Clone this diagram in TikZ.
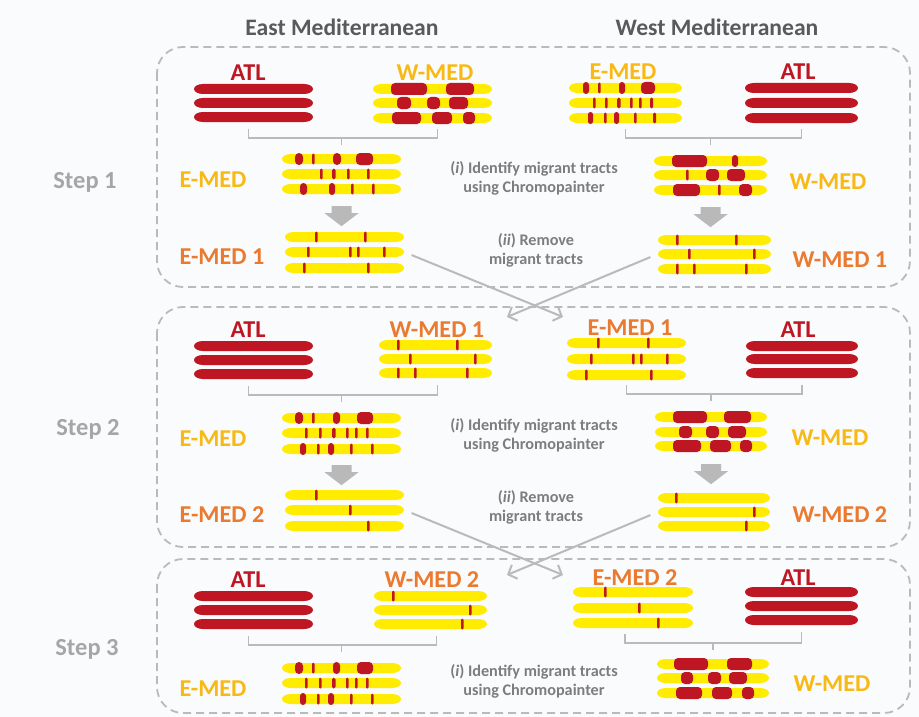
\documentclass[tikz,border=0pt]{standalone}
\usepackage{fontspec}
\setmainfont{Carlito}
\usetikzlibrary{arrows.meta}

\definecolor{atlred}{RGB}{190,22,34}
\definecolor{chryellow}{RGB}{255,236,0}
\definecolor{medgold}{RGB}{248,185,20}
\definecolor{medorange}{RGB}{234,122,47}
\definecolor{linegray}{RGB}{186,186,186}
\definecolor{notegray}{RGB}{125,125,125}
\definecolor{stepgray}{RGB}{166,166,166}
\definecolor{headgray}{RGB}{90,90,90}
\definecolor{paper}{RGB}{250,251,252}

% one chromosome bar: colour, left x, mid y, length
\newcommand{\chrbar}[4]{%
    \fill[#1] (#2+9,#3-5) -- (#2+#4-9,#3-5)
        arc[start angle=90, end angle=-90, x radius=9pt, y radius=5pt]
        -- (#2+9,#3+5)
        arc[start angle=270, end angle=90, x radius=9pt, y radius=5pt] -- cycle;
}

% yellow chromosome with red tracts (from/to, measured from the left end)
\newcommand{\chrom}[4]{%
    \chrbar{chryellow}{#1}{#2}{#3}
    \foreach \a/\b in {#4}{
        \pgfmathsetmacro{\rc}{min(4,(\b-\a)/2)}
        \pgfmathsetmacro{\hh}{(\b-\a)<4.5 ? 5.5 : 6}
        \fill[atlred, rounded corners=\rc pt] (#1+\a,#2-\hh) rectangle (#1+\b,#2+\hh);
    }
}

% bracket joining two panels onto the one below
\newcommand{\joinbr}[5]{%
    \draw[bracket] ([shift={(#4,6)}]#1.south) -- ++(0,9) coordinate (brmid) -| ([shift={(#5,6)}]#2.south);
    \draw[bracket] (brmid -| #3) -- ++(0,7);
}

\tikzset{
    pics/downarr/.style={code={
        \fill[linegray!95!black!90] (-10,0) -- (10,0) -- (10,7) -- (17,7) -- (0,20) -- (-17,7) -- (-10,7) -- cycle;
    }},
}

\begin{document}
\begin{tikzpicture}[x=1pt, y=-1pt,
    lbl/.style={font=\bfseries\fontsize{24.2}{27}\selectfont, inner sep=0pt},
    atl/.style={lbl, text=atlred},
    med/.style={lbl, text=medgold},
    medn/.style={lbl, text=medorange},
    steplbl/.style={lbl, font=\bfseries\fontsize{24.5}{27}\selectfont, text=stepgray},
    head/.style={lbl, font=\bfseries\fontsize{23.6}{26}\selectfont, text=headgray},
    note/.style={font=\bfseries\fontsize{16.2}{19}\selectfont, text=notegray, align=center, inner sep=0pt},
    stack/.style={minimum height=40pt, inner sep=0pt},
    stepbox/.style={draw=linegray, line width=1.8pt, dash pattern=on 8pt off 5pt, rounded corners=26pt},
    bracket/.style={draw=linegray, line width=1.6pt},
    cross/.style={draw=linegray, line width=2pt, shorten <=8pt, -{Straight Barb[length=7pt, width=15pt]}},
]
    \fill[paper] (0,0) rectangle (919,717);
    \useasboundingbox (0,0) rectangle (919,717);

    % column titles
    \node[head] (east) at (342,27) {East Mediterranean};
    \node[head] (west) at (717,27) {West Mediterranean};

    % the three steps
    \draw[stepbox] (157,47) rectangle (910,287);
    \draw[stepbox] (157,307) rectangle (910,547);
    \draw[stepbox] (157,559) rectangle (910,713);
    \node[steplbl] (step1) at (85,182) {Step 1};
    \node[steplbl] (step2) at (88,429) {Step 2};
    \node[steplbl] (step3) at (87,649) {Step 3};

    %%%% step 1, east
    \node[atl] (latl1) at (248,73) {ATL};
    \foreach \y in {89,103,117} \chrbar{atlred}{194}{\y}{119};
    \node[stack, minimum width=119pt] (atl1) at (253.5,103) {};
    \node[med] (lwm1) at (435,73) {W-MED};
    \chrom{373}{89}{119}{18/54, 73/101}
    \chrom{373}{103}{119}{24/38, 54/67, 76/95}
    \chrom{373}{118}{119}{19/48, 59/79, 90/102}
    \node[stack, minimum width=119pt] (wms1) at (432.5,103) {};
    \node[med] (lem1) at (213,180) {E-MED};
    \chrom{282}{159}{119}{13/21, 30/32.5, 51/59, 74/91}
    \chrom{282}{174}{119}{38/40.5, 50/53.5, 65/67.5, 85/87.5}
    \chrom{282}{189}{119}{18/25, 47/53, 69/71.5, 90/92.5}
    \node[stack, minimum width=119pt] (em1) at (341.5,174) {};
    \node[medn] (lem1r) at (222,257) {E-MED 1};
    \chrom{285}{237}{119}{30/32.5, 79/81.5}
    \chrom{285}{252}{119}{22/24.5, 64/66.5, 72/74.5, 98/100.5}
    \chrom{285}{268}{119}{18/20.5, 82/84.5}
    \node[stack, minimum width=119pt] (em1r) at (344.5,252) {};

    %%%% step 1, west
    \node[med] (rem1) at (623,72) {E-MED};
    \chrom{569}{88}{113}{14/20, 29/31.5, 50/56, 72/86}
    \chrom{569}{103}{113}{24/26.5, 36/38.5, 48/51.5, 61/63.5, 70/72.5, 81/84}
    \chrom{569}{118}{113}{19/24, 35/37.5, 45/50, 65/67.5, 84/87}
    \node[stack, minimum width=113pt] (ems1) at (625.5,103) {};
    \node[atl] (ratl1) at (798,72) {ATL};
    \foreach \y in {88,103,118} \chrbar{atlred}{745}{\y}{113};
    \node[stack, minimum width=113pt] (atl1r) at (801.5,103) {};
    \node[med] (rwm1) at (828,182) {W-MED};
    \chrom{654}{161}{113}{18/53, 78/84}
    \chrom{654}{175}{113}{32/34.5, 52/65, 73/91}
    \chrom{654}{190}{113}{19/46, 64/66.5, 85/98}
    \node[stack, minimum width=113pt] (wm1) at (710.5,175) {};
    \node[medn] (rwm1r) at (840,260) {W-MED 1};
    \chrom{658}{240}{113}{18/20.5, 77/79.5}
    \chrom{658}{254}{113}{30/32.5, 95/97.5}
    \chrom{658}{269}{113}{18/20.5, 35/37.5, 87/89.5}
    \node[stack, minimum width=113pt] (wm1r) at (714.5,254) {};

    \joinbr{atl1}{wms1}{em1}{-5}{5}
    \joinbr{ems1}{atl1r}{wm1}{0}{0}
    \pic at ([yshift=-12pt]em1.south) {downarr};
    \pic at ([yshift=-12pt]wm1.south) {downarr};
    \node[note] (id1) at (534,178) {(\textit{i}) Identify migrant tracts\\using Chromopainter};
    \node[note] (rm1) at (536,250) {(\textit{ii}) Remove\\migrant tracts};

    %%%% step 2, east
    \node[atl] (latl2) at (248,330) {ATL};
    \foreach \y in {346,360,374} \chrbar{atlred}{194}{\y}{119};
    \node[stack, minimum width=119pt] (atl2) at (253.5,360) {};
    \node[medn] (lwm1b) at (437,330) {W-MED 1};
    \chrom{379}{345}{113}{18/20.5, 77/79.5}
    \chrom{379}{359}{113}{30/32.5, 95/97.5}
    \chrom{379}{373}{113}{18/20.5, 35/37.5, 87/89.5}
    \node[stack, minimum width=113pt] (wm1b) at (435.5,359) {};
    \node[med] (lem2) at (213,439) {E-MED};
    \chrom{282}{418}{119}{13/21, 30/32.5, 51/58, 75/91}
    \chrom{282}{433}{119}{23/25.5, 37/39.5, 50/53.5, 64/66.5, 73/75.5, 84/86.5}
    \chrom{282}{449}{119}{18/24, 35/37.5, 46/52, 68/70.5, 89/91.5}
    \node[stack, minimum width=119pt] (em2) at (341.5,433) {};
    \node[medn] (lem2r) at (222,515) {E-MED 2};
    \chrom{285}{495}{119}{30/32.5}
    \chrom{285}{510}{119}{64/66.5}
    \chrom{285}{526}{119}{82/84.5}
    \node[stack, minimum width=119pt] (em2r) at (344.5,510) {};

    %%%% step 2, west
    \node[medn] (rem1b) at (630,328) {E-MED 1};
    \chrom{567}{343}{119}{30/32.5, 80/82.5}
    \chrom{567}{359}{119}{23/25.5, 65/67.5, 73/75.5, 99/101.5}
    \chrom{567}{375}{119}{18/20.5, 83/85.5}
    \node[stack, minimum width=119pt] (em1b) at (626.5,359) {};
    \node[atl] (ratl2) at (798,330) {ATL};
    \foreach \y in {346,359,373} \chrbar{atlred}{746}{\y}{112};
    \node[stack, minimum width=112pt] (atl2r) at (802,359) {};
    \node[med] (rwm2) at (830,438) {W-MED};
    \chrom{655}{417}{112}{18/52, 69/96}
    \chrom{655}{432}{112}{24/37, 51/64, 73/91}
    \chrom{655}{446}{112}{18/46, 55/76, 85/97}
    \node[stack, minimum width=112pt] (wm2) at (711,432) {};
    \node[medn] (rwm2r) at (840,515) {W-MED 2};
    \chrom{658}{498}{112}{17/19.5}
    \chrom{658}{512}{112}{95/97.5}
    \chrom{658}{526}{112}{87/89.5}
    \node[stack, minimum width=112pt] (wm2r) at (714,512) {};

    \joinbr{atl2}{wm1b}{em2}{-5}{2}
    \joinbr{em1b}{atl2r}{wm2}{0}{0}
    \pic at ([yshift=-12pt]em2.south) {downarr};
    \pic at ([yshift=-12pt]wm2.south) {downarr};
    \node[note] (id2) at (534,435) {(\textit{i}) Identify migrant tracts\\using Chromopainter};
    \node[note] (rm2) at (536,507) {(\textit{ii}) Remove\\migrant tracts};

    %%%% step 3, east
    \node[atl] (latl3) at (248,580) {ATL};
    \foreach \y in {596,610,624} \chrbar{atlred}{194}{\y}{119};
    \node[stack, minimum width=119pt] (atl3) at (253.5,610) {};
    \node[medn] (lwm2b) at (432,580) {W-MED 2};
    \chrom{374}{596}{113}{18/20.5}
    \chrom{374}{610}{113}{95/97.5}
    \chrom{374}{624}{113}{87/89.5}
    \node[stack, minimum width=113pt] (wm2b) at (430.5,610) {};
    \node[med] (lem3) at (213,689) {E-MED};
    \chrom{282}{668}{119}{13/21, 30/32.5, 51/58, 75/91}
    \chrom{282}{683}{119}{23/25.5, 37/39.5, 50/53.5, 64/66.5, 73/75.5, 84/86.5}
    \chrom{282}{699}{119}{18/24, 35/37.5, 46/52, 68/70.5, 89/91.5}
    \node[stack, minimum width=119pt] (em3) at (341.5,683) {};

    %%%% step 3, west
    \node[medn] (rem2b) at (635,578) {E-MED 2};
    \chrom{573}{592}{120}{31/33.5}
    \chrom{573}{608}{120}{65/67.5}
    \chrom{573}{623}{120}{84/86.5}
    \node[stack, minimum width=120pt] (em2b) at (633,608) {};
    \node[atl] (ratl3) at (798,578) {ATL};
    \foreach \y in {592,606,620} \chrbar{atlred}{745}{\y}{113};
    \node[stack, minimum width=113pt] (atl3r) at (801.5,606) {};
    \node[med] (rwm3) at (832,684) {W-MED};
    \chrom{657}{664}{112}{17/51, 70/95}
    \chrom{657}{678}{112}{24/36, 51/64, 72/90}
    \chrom{657}{693}{112}{19/45, 55/75, 85/97}
    \node[stack, minimum width=112pt] (wm3) at (713,678) {};

    \joinbr{atl3}{wm2b}{em3}{-5}{6}
    \joinbr{em2b}{atl3r}{wm3}{-8}{0}
    \node[note] (id3) at (534,681) {(\textit{i}) Identify migrant tracts\\using Chromopainter};

    % cleaned panels handed over to the other side
    \coordinate (tipe1) at (563,317);
    \coordinate (tipw1) at (507,317);
    \coordinate (tipe2) at (563,575);
    \coordinate (tipw2) at (507,575);
    \draw[cross] (em1r.east) -- (tipe1);
    \draw[cross] (wm1r.west) -- (tipw1);
    \draw[cross] (em2r.east) -- (tipe2);
    \draw[cross] (wm2r.west) -- (tipw2);
\end{tikzpicture}
\end{document}
